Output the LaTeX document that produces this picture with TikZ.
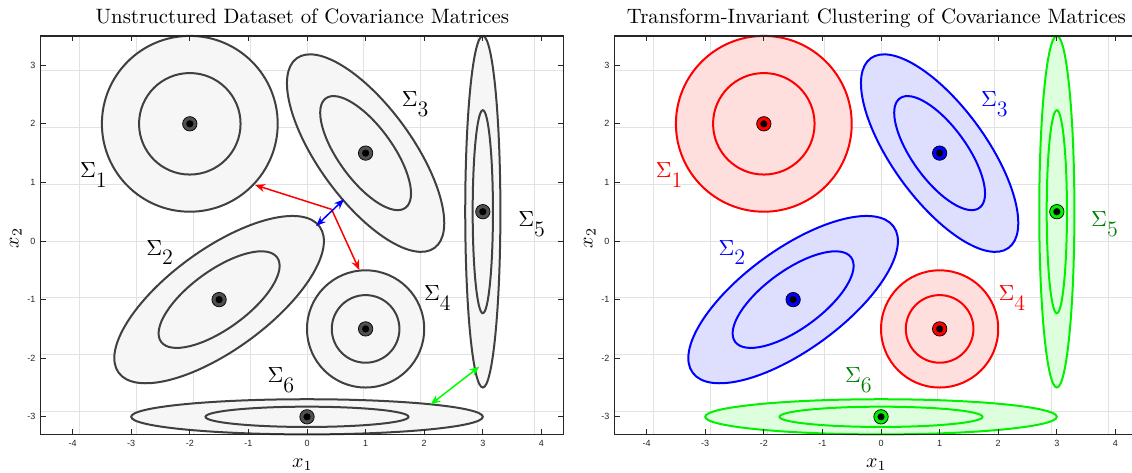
\documentclass[tikz,border=0pt]{standalone}
\usepackage{fontspec}
\newfontfamily\tickfont{Liberation Sans}
\usepackage{tikz}
\usetikzlibrary{arrows.meta}

\definecolor{axgray}{RGB}{38,38,38}
\definecolor{gridgray}{RGB}{226,226,226}
\definecolor{ringgray}{RGB}{64,64,64}
\definecolor{fillgray}{RGB}{246,246,246}
\definecolor{dotgray}{RGB}{80,80,80}
\definecolor{redfill}{RGB}{255,222,222}
\definecolor{bluefill}{RGB}{222,222,255}
\definecolor{greenfill}{RGB}{222,255,222}
\definecolor{cgreen}{RGB}{0,240,0}
\definecolor{labgreen}{RGB}{0,128,0}

\begin{document}
\begin{tikzpicture}[
    x=29.3pt, y=29.3pt,
    >={Stealth[length=5pt,width=4pt]},
    gridline/.style={draw=gridgray, line width=0.5pt},
    axbox/.style={draw=axgray, line width=0.6pt},
    tickmark/.style={draw=axgray, line width=0.5pt},
    ticklab/.style={font=\tickfont\fontsize{4.5}{5.5}\selectfont, text=axgray, inner sep=0pt},
    ptitle/.style={font=\fontsize{10.4}{12}\selectfont, anchor=base, inner sep=0pt},
    axlab/.style={font=\fontsize{10.4}{12}\selectfont, anchor=base, inner sep=0pt},
    siglab/.style={font=\fontsize{11}{13}\selectfont, anchor=base west, inner sep=0pt},
    covout/.style 2 args={draw=#1, fill=#2, line width=1pt},
    covin/.style={draw=#1, line width=1pt},
    mean/.style={circle, draw=black, line width=0.35pt, fill=#1,
                 inner sep=0pt, minimum size=7.2pt,
                 path picture={\fill[black] (path picture bounding box.center) circle (1.8pt);}},
    arr/.style={draw=#1, line width=0.75pt}
  ]
  \useasboundingbox (-5.2389,-3.942) rectangle (14.078,4.1126);
  \fill[white] (-5.2389,-3.942) rectangle (14.078,4.1126);

  % ---- left panel: unstructured dataset
  \begin{scope}
    \draw[gridline] (-4.547,-3.3) grid (4.38,3.5);

    \coordinate (ca1) at (-2,2);
    \coordinate (ca2) at (-1.5,-1);
    \coordinate (ca3) at (1,1.5);
    \coordinate (ca4) at (1,-1.5);
    \coordinate (ca5) at (3,0.5);
    \coordinate (ca6) at (0,-3);

    \draw[covout={ringgray}{fillgray}] (ca1) circle [radius=1.5];
    \draw[covin=ringgray] (ca1) circle [radius=0.866];
    \draw[covout={ringgray}{fillgray}, rotate around={36:(ca2)}] (ca2) ellipse [x radius=2.12, y radius=0.86];
    \draw[covin=ringgray, rotate around={36:(ca2)}] (ca2) ellipse [x radius=1.224, y radius=0.497];
    \draw[covout={ringgray}{fillgray}, rotate around={126:(ca3)}] (ca3) ellipse [x radius=2.0, y radius=0.8];
    \draw[covin=ringgray, rotate around={126:(ca3)}] (ca3) ellipse [x radius=1.155, y radius=0.462];
    \draw[covout={ringgray}{fillgray}] (ca4) circle [radius=1];
    \draw[covin=ringgray] (ca4) circle [radius=0.577];
    \draw[covout={ringgray}{fillgray}] (ca5) ellipse [x radius=0.3, y radius=3];
    \draw[covin=ringgray] (ca5) ellipse [x radius=0.173, y radius=1.732];
    \draw[covout={ringgray}{fillgray}] (ca6) ellipse [x radius=3, y radius=0.3];
    \draw[covin=ringgray] (ca6) ellipse [x radius=1.732, y radius=0.173];

    \draw[axbox] (-4.547,-3.3) rectangle (4.38,3.5);
    \foreach \t in {-4,...,4} {
      \draw[tickmark] (\t,-3.3) -- (\t,-3.21);
      \draw[tickmark] (\t,3.5) -- (\t,3.41);
      \node[ticklab] (xa\t) at (\t,-3.46) {\t};
    }
    \foreach \t in {-3,...,3} {
      \draw[tickmark] (-4.547,\t) -- (-4.457,\t);
      \draw[tickmark] (4.38,\t) -- (4.29,\t);
      \node[ticklab, anchor=east] (ya\t) at (-4.63,\t) {\t};
    }

    % distances between neighbours
    \coordinate (gap) at (0.42,0.54);
    \coordinate (rim1) at (-0.887,0.956);
    \coordinate (rim4) at (0.893,-0.495);
    \coordinate (rim2) at (0.154,0.256);
    \coordinate (rim3) at (0.631,0.712);
    \coordinate (rim6) at (2.11,-2.787);
    \coordinate (rim5) at (2.94,-2.145);
    \draw[arr=red, ->] (gap) -- (rim1);
    \draw[arr=red, ->] (gap) -- (rim4);
    \draw[arr=blue, <->] (rim2) -- (rim3);
    \draw[arr=green, <->] (rim6) -- (rim5);

    \node[mean=dotgray] (ma1) at (ca1) {};
    \node[mean=dotgray] (ma2) at (ca2) {};
    \node[mean=dotgray] (ma3) at (ca3) {};
    \node[mean=dotgray] (ma4) at (ca4) {};
    \node[mean=dotgray] (ma5) at (ca5) {};
    \node[mean=dotgray] (ma6) at (ca6) {};

    \node[siglab] (sa1) at (-3.88,1.08) {$\Sigma$\raisebox{-0.45em}{1}};
    \node[siglab] (sa2) at (-2.75,-0.24) {$\Sigma$\raisebox{-0.45em}{2}};
    \node[siglab] (sa3) at (1.61,2.29) {$\Sigma$\raisebox{-0.45em}{3}};
    \node[siglab] (sa4) at (1.99,-1.01) {$\Sigma$\raisebox{-0.45em}{4}};
    \node[siglab] (sa5) at (3.60,0.25) {$\Sigma$\raisebox{-0.45em}{5}};
    \node[siglab] (sa6) at (-0.68,-2.41) {$\Sigma$\raisebox{-0.45em}{6}};

    \node[ptitle] (titleA) at (-0.08,3.715) {Unstructured Dataset of Covariance Matrices};
    \node[axlab] (xlabA) at (-0.08,-3.86) {$x_1$};
    \node[axlab, rotate=90] (ylabA) at (-4.92,0.05) {$x_2$};
  \end{scope}

  % ---- right panel: clustered dataset
  \begin{scope}[xshift=287pt]
    \draw[gridline] (-4.547,-3.3) grid (4.38,3.5);

    \coordinate (cb1) at (-2,2);
    \coordinate (cb2) at (-1.5,-1);
    \coordinate (cb3) at (1,1.5);
    \coordinate (cb4) at (1,-1.5);
    \coordinate (cb5) at (3,0.5);
    \coordinate (cb6) at (0,-3);

    \draw[covout={red}{redfill}] (cb1) circle [radius=1.5];
    \draw[covin=red] (cb1) circle [radius=0.866];
    \draw[covout={blue}{bluefill}, rotate around={36:(cb2)}] (cb2) ellipse [x radius=2.12, y radius=0.86];
    \draw[covin=blue, rotate around={36:(cb2)}] (cb2) ellipse [x radius=1.224, y radius=0.497];
    \draw[covout={blue}{bluefill}, rotate around={126:(cb3)}] (cb3) ellipse [x radius=2.0, y radius=0.8];
    \draw[covin=blue, rotate around={126:(cb3)}] (cb3) ellipse [x radius=1.155, y radius=0.462];
    \draw[covout={red}{redfill}] (cb4) circle [radius=1];
    \draw[covin=red] (cb4) circle [radius=0.577];
    \draw[covout={cgreen}{greenfill}] (cb5) ellipse [x radius=0.3, y radius=3];
    \draw[covin=cgreen] (cb5) ellipse [x radius=0.173, y radius=1.732];
    \draw[covout={cgreen}{greenfill}] (cb6) ellipse [x radius=3, y radius=0.3];
    \draw[covin=cgreen] (cb6) ellipse [x radius=1.732, y radius=0.173];

    \draw[axbox] (-4.547,-3.3) rectangle (4.38,3.5);
    \foreach \t in {-4,...,4} {
      \draw[tickmark] (\t,-3.3) -- (\t,-3.21);
      \draw[tickmark] (\t,3.5) -- (\t,3.41);
      \node[ticklab] (xb\t) at (\t,-3.46) {\t};
    }
    \foreach \t in {-3,...,3} {
      \draw[tickmark] (-4.547,\t) -- (-4.457,\t);
      \draw[tickmark] (4.38,\t) -- (4.29,\t);
      \node[ticklab, anchor=east] (yb\t) at (-4.63,\t) {\t};
    }

    \node[mean=red] (mb1) at (cb1) {};
    \node[mean=blue] (mb2) at (cb2) {};
    \node[mean=blue] (mb3) at (cb3) {};
    \node[mean=red] (mb4) at (cb4) {};
    \node[mean=cgreen] (mb5) at (cb5) {};
    \node[mean=cgreen] (mb6) at (cb6) {};

    \node[siglab, text=red] (sb1) at (-3.85,1.08) {$\Sigma$\raisebox{-0.45em}{1}};
    \node[siglab, text=blue] (sb2) at (-2.78,-0.24) {$\Sigma$\raisebox{-0.45em}{2}};
    \node[siglab, text=blue] (sb3) at (1.70,2.29) {$\Sigma$\raisebox{-0.45em}{3}};
    \node[siglab, text=red] (sb4) at (2.0,-1.01) {$\Sigma$\raisebox{-0.45em}{4}};
    \node[siglab, text=labgreen] (sb5) at (3.58,0.25) {$\Sigma$\raisebox{-0.45em}{5}};
    \node[siglab, text=labgreen] (sb6) at (-0.62,-2.41) {$\Sigma$\raisebox{-0.45em}{6}};

    \node[ptitle] (titleB) at (-0.08,3.715) {Transform-Invariant Clustering of Covariance Matrices};
    \node[axlab] (xlabB) at (-0.08,-3.86) {$x_1$};
    \node[axlab, rotate=90] (ylabB) at (-4.92,0.05) {$x_2$};
  \end{scope}
\end{tikzpicture}
\end{document}
